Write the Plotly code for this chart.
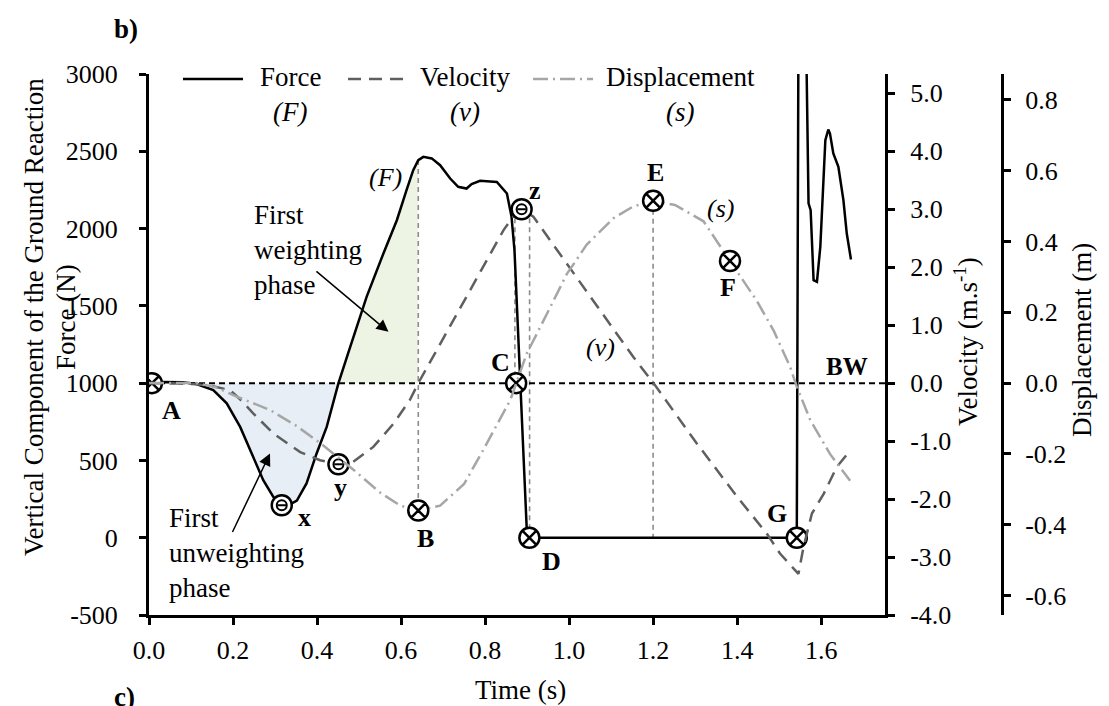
import plotly.graph_objects as go

# ---------------- data ----------------
force_t = [0.000, 0.030, 0.080, 0.113, 0.153, 0.185, 0.217, 0.248, 0.272, 0.296,
           0.316, 0.335, 0.352, 0.375, 0.399, 0.423, 0.439, 0.451, 0.479, 0.518,
           0.558, 0.590, 0.613, 0.629, 0.641, 0.653, 0.673, 0.693, 0.717, 0.736,
           0.756, 0.768, 0.788, 0.828, 0.852, 0.863, 0.870, 0.875, 0.880, 0.883,
           0.888, 0.891, 0.895, 0.899, 0.905, 1.542, 1.546, 1.556, 1.565, 1.570,
           1.575, 1.582, 1.590, 1.598, 1.610, 1.617, 1.621, 1.629, 1.641, 1.653,
           1.661, 1.671]
force_N = [1000, 1008, 1005, 994, 955, 869, 717, 523, 372, 264,
           210, 215, 240, 351, 545, 717, 890, 1000, 1235, 1558,
           1839, 2054, 2249, 2378, 2443, 2464, 2454, 2410, 2324, 2270,
           2259, 2288, 2309, 2302, 2227, 2076, 1860, 1537, 1213, 998,
           782, 566, 300, 67, 0, 0, 3300, 4800, 3100, 2163,
           2119, 1666, 1655, 1882, 2572, 2641, 2615, 2486, 2399, 2184,
           1968, 1800]

vel_t = [0.000, 0.050, 0.113, 0.150, 0.193, 0.220, 0.248, 0.296, 0.360, 0.407,
         0.451, 0.486, 0.534, 0.582, 0.621, 0.641, 0.685, 0.733, 0.796, 0.844,
         0.875, 0.887, 0.915, 0.994, 1.074, 1.153, 1.201, 1.304, 1.400, 1.471,
         1.502, 1.546, 1.558, 1.578, 1.606, 1.637, 1.669]
vel_v = [0.00, 0.00, -0.02, -0.05, -0.12, -0.30, -0.52, -0.87, -1.19, -1.33,
         -1.40, -1.36, -1.10, -0.70, -0.29, 0.00, 0.57, 1.20, 2.01, 2.64,
         2.95, 3.00, 2.87, 2.07, 1.26, 0.45, 0.00, -1.04, -1.96, -2.60,
         -2.94, -3.29, -2.83, -2.25, -1.91, -1.45, -1.16]

disp_t = [0.000, 0.113, 0.160, 0.209, 0.288, 0.350, 0.407, 0.486, 0.550, 0.598,
          0.641, 0.693, 0.750, 0.796, 0.860, 0.899, 0.947, 0.994, 1.042, 1.106,
          1.153, 1.200, 1.252, 1.320, 1.383, 1.447, 1.487, 1.526, 1.542, 1.574,
          1.621, 1.669]
disp_s = [0.000, 0.000, -0.012, -0.038, -0.076, -0.120, -0.169, -0.244, -0.309, -0.346,
          -0.360, -0.346, -0.285, -0.188, -0.048, 0.083, 0.195, 0.307, 0.391, 0.466,
          0.499, 0.515, 0.503, 0.457, 0.345, 0.232, 0.148, 0.046, -0.010, -0.104,
          -0.200, -0.276]

BW = 1000  # body weight (N)

# key events marked with a crossed circle
cross_force_lbl = ["A", "C", "D", "G"]
cross_force_t = [0.007, 0.874, 0.9055, 1.542]
cross_force_N = [1000, 1000, 0, 0]
cross_disp_lbl = ["B", "E", "F"]
cross_disp_t = [0.641, 1.200, 1.383]
cross_disp_s = [-0.360, 0.515, 0.345]
# events marked with a dotted circle
dot_force_t = [0.316]
dot_force_N = [210]
dot_vel_t = [0.451, 0.887]
dot_vel_v = [-1.40, 3.00]

# vertical guide lines (force-axis units)
guide_t = [0.641, 0.871, 0.906, 1.200]
guide_top = [2443, 2125, 2125, 2180]
guide_bot = [175, 1000, 0, 0]

# letter labels (time, force-axis position)
lbl_text = ["A", "B", "C", "D", "E", "F", "G", "x", "y", "z"]
lbl_t = [0.054, 0.657, 0.836, 0.959, 1.205, 1.379, 1.494, 0.371, 0.455, 0.919]
lbl_N = [825, -3, 1136, -156, 2365, 1621, 159, 133, 327, 2249]

legend_names = ["Force", "Velocity", "Displacement"]
legend_syms = ["(F)", "(v)", "(s)"]

x_ticks = [0.0, 0.2, 0.4, 0.6, 0.8, 1.0, 1.2, 1.4, 1.6]
f_ticks = [-500, 0, 500, 1000, 1500, 2000, 2500, 3000]
v_ticks = [-4, -3, -2, -1, 0, 1, 2, 3, 4, 5]
s_ticks = [-0.6, -0.4, -0.2, 0.0, 0.2, 0.4, 0.6, 0.8]

X_RANGE = [0, 1.752]
F_RANGE = [-500, 3000]
V_RANGE = [-4, 5.333]
S_RANGE = [-0.655, 0.873]

FONT = "Liberation Serif"
OFF = 8                      # default page margin of the html body
W, H = 1109 - OFF, 706 - OFF


def px(x):
    return (x - OFF) / W


def py(y):
    return 1 - (y - OFF) / H


def note(text, x, y, size=27, ref="paper", **kw):
    d = dict(x=x, y=y, xref="x" if ref == "data" else "paper", yref="y" if ref == "data" else "paper",
             text=text, showarrow=False, xanchor="center", yanchor="middle",
             font=dict(size=size, family=FONT, color="black"))
    d.update(kw)
    return d


fig = go.Figure()

# ---------------- shaded phases ----------------
blue_pts = [(t, min(f, BW)) for t, f in zip(force_t, force_N) if 0.03 <= t <= 0.451]
blue_x = [p[0] for p in blue_pts] + [blue_pts[-1][0], blue_pts[0][0]]
blue_y = [p[1] for p in blue_pts] + [BW, BW]
fig.add_trace(go.Scatter(x=blue_x, y=blue_y, fill="toself", fillcolor="#e8eef6",
                         mode="lines", line=dict(width=0), showlegend=False, hoverinfo="skip"))
green_pts = [(t, max(f, BW)) for t, f in zip(force_t, force_N) if 0.451 <= t <= 0.641]
green_x = [p[0] for p in green_pts] + [green_pts[-1][0], green_pts[0][0]]
green_y = [p[1] for p in green_pts] + [BW, BW]
fig.add_trace(go.Scatter(x=green_x, y=green_y, fill="toself", fillcolor="#eef4e4",
                         mode="lines", line=dict(width=0), showlegend=False, hoverinfo="skip"))

# ---------------- guide lines ----------------
gx, gy = [], []
for t, a, b in zip(guide_t, guide_top, guide_bot):
    gx += [t, t, None]
    gy += [a, b, None]
fig.add_trace(go.Scatter(x=gx, y=gy, mode="lines", showlegend=False, hoverinfo="skip",
                         line=dict(color="#8c8c8c", width=1.6, dash="5px,4px")))

# BW line
fig.add_trace(go.Scatter(x=X_RANGE, y=[BW, BW], mode="lines", showlegend=False, hoverinfo="skip",
                         line=dict(color="black", width=2, dash="6px,4px")))

# ---------------- curves ----------------
styles = [dict(color="black", width=2.5),
          dict(color="#5f5f5f", width=2.5, dash="13px,8px"),
          dict(color="#a6a6a6", width=2.5, dash="15px,5px,2px,5px")]
fig.add_trace(go.Scatter(x=force_t, y=force_N, mode="lines", name="Force (F)",
                         line=styles[0], yaxis="y", showlegend=False))
fig.add_trace(go.Scatter(x=vel_t, y=vel_v, mode="lines", name="Velocity (v)",
                         line=styles[1], yaxis="y2", showlegend=False))
fig.add_trace(go.Scatter(x=disp_t, y=disp_s, mode="lines", name="Displacement (s)",
                         line=styles[2], yaxis="y3", showlegend=False))

# ---------------- markers ----------------
cross_style = dict(symbol="circle-x", size=20, color="white", line=dict(color="black", width=2.5))
fig.add_trace(go.Scatter(x=cross_force_t, y=cross_force_N, mode="markers", marker=cross_style,
                         showlegend=False, text=cross_force_lbl, hoverinfo="text", yaxis="y"))
fig.add_trace(go.Scatter(x=cross_disp_t, y=cross_disp_s, mode="markers", marker=cross_style,
                         showlegend=False, text=cross_disp_lbl, hoverinfo="text", yaxis="y3"))

for xs, ys, ax in [(dot_force_t, dot_force_N, "y"), (dot_vel_t, dot_vel_v, "y2")]:
    fig.add_trace(go.Scatter(x=xs, y=ys, mode="markers", showlegend=False, hoverinfo="skip", yaxis=ax,
                             marker=dict(symbol="circle", size=20, color="white",
                                         line=dict(color="black", width=2.5))))
    fig.add_trace(go.Scatter(x=xs, y=ys, mode="markers", showlegend=False, hoverinfo="skip", yaxis=ax,
                             marker=dict(symbol="circle-open", size=10, color="black",
                                         line=dict(color="black", width=2))))
    fig.add_trace(go.Scatter(x=xs, y=ys, mode="markers", showlegend=False, hoverinfo="skip", yaxis=ax,
                             marker=dict(symbol="line-ew", size=6, color="black",
                                         line=dict(color="black", width=2))))

# ---------------- legend (drawn by hand to match the sample length) ----------------
shapes = []
ann = []
leg_line_x = [(183, 243), (348, 407), (533, 593)]
leg_text_x = [290, 465, 680]
for (a, b), tx, name, sym, st in zip(leg_line_x, leg_text_x, legend_names, legend_syms, styles):
    shapes.append(dict(type="line", xref="paper", yref="paper", x0=px(a), x1=px(b),
                       y0=py(79), y1=py(79),
                       line=dict(color=st["color"], width=st["width"], dash=st.get("dash", "solid"))))
    ann.append(note(name, px(tx), py(77)))
    ann.append(note("<i>%s</i>" % sym, px(tx), py(112)))

# ---------------- annotations ----------------
for s, t, f in zip(lbl_text, lbl_t, lbl_N):
    ann.append(note("<b>%s</b>" % s, t, f, size=26, ref="data"))
for s, t, f in [("(F)", 0.562, 2333), ("(v)", 1.074, 1233), ("(s)", 1.360, 2132)]:
    ann.append(note("<i>%s</i>" % s, t, f, size=26, ref="data"))
ann.append(note("<b>BW</b>", 1.662, 1110, size=25, ref="data"))
ann.append(note("First<br>weighting<br>phase", 0.245, 1861, ref="data", xanchor="left", align="left"))
ann.append(note("First<br>unweighting<br>phase", 0.042, -100, ref="data", xanchor="left", align="left"))
# arrows
ann.append(dict(x=0.570, y=1332, ax=0.395, ay=1731, xref="x", yref="y", axref="x", ayref="y",
                text="", showarrow=True, arrowhead=2, arrowsize=1.6, arrowwidth=1.5, arrowcolor="black"))
ann.append(dict(x=0.288, y=545, ax=0.197, ay=27, xref="x", yref="y", axref="x", ayref="y",
                text="", showarrow=True, arrowhead=2, arrowsize=1.6, arrowwidth=1.5, arrowcolor="black"))
# panel letters and axis titles
ann.append(note("<b>b)</b>", px(126), py(29)))
ann.append(note("<b>c)</b>", px(124), py(697)))
ann.append(note("Time (s)", px(520), py(690)))
ann.append(note("Vertical Component of the Ground Reaction", px(34), py(317), textangle=-90))
ann.append(note("Force (N)", px(66), py(317), textangle=-90))
ann.append(note("Velocity (m.s<sup>-1</sup>)", px(966), py(342), textangle=-90))
ann.append(note("Displacement (m)", px(1082), py(340), textangle=-90))

axis_common = dict(showgrid=False, zeroline=False, showline=True, linecolor="black", linewidth=3,
                   ticks="outside", tickcolor="black", tickwidth=3, ticklen=7, automargin=False,
                   tickfont=dict(size=26, family=FONT, color="black"))

y0, y1 = py(615), py(74)

fig.update_layout(
    width=W, height=H, autosize=False,
    margin=dict(l=0, r=0, t=0, b=0, pad=0, autoexpand=False),
    paper_bgcolor="white", plot_bgcolor="white",
    font=dict(family=FONT, color="black"),
    showlegend=False,
    xaxis=dict(domain=[px(149), px(885)], range=X_RANGE, tickvals=x_ticks,
               ticktext=["%.1f" % v for v in x_ticks], anchor="y", ticklabelstandoff=3,
               **axis_common),
    xaxis2=dict(domain=[px(980), px(1002)], range=[0, 1], showgrid=False, zeroline=False,
                showline=True, linecolor="black", linewidth=3, showticklabels=False,
                ticks="", anchor="free", position=y0, automargin=False),
    yaxis=dict(domain=[y0, y1], range=F_RANGE, tickvals=f_ticks,
               ticktext=[str(v) for v in f_ticks], anchor="x", ticklabelstandoff=16,
               **axis_common),
    yaxis2=dict(range=V_RANGE, overlaying="y", side="right", anchor="x", tickvals=v_ticks,
                ticktext=["%.1f" % v for v in v_ticks], ticklabelstandoff=10, **axis_common),
    yaxis3=dict(range=S_RANGE, overlaying="y", side="right", anchor="free", position=px(1002),
                tickvals=s_ticks, ticktext=["%.1f" % v for v in s_ticks], ticklabelstandoff=9,
                **axis_common),
    shapes=shapes,
    annotations=ann,
    hovermode=False,
)

fig.write_html("out.html")
